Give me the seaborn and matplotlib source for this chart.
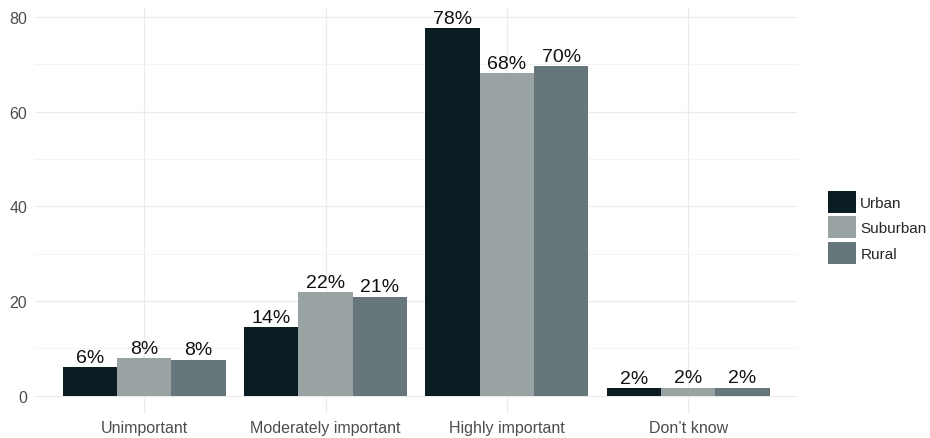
import matplotlib
matplotlib.use("Agg")
import matplotlib.pyplot as plt
import seaborn as sns
import pandas as pd
from matplotlib.patches import Patch

categories = ["Unimportant", "Moderately important", "Highly important", "Don\u2019t know"]
groups = ["Urban", "Suburban", "Rural"]
urban = [6.0, 14.5, 77.6, 1.6]
suburban = [7.9, 21.9, 68.1, 1.7]
rural = [7.6, 20.9, 69.6, 1.7]
colors = ["#0B1C22", "#9AA3A4", "#67767A"]
y_ticks = [0, 20, 40, 60, 80]

rows = []
for g, vals in zip(groups, [urban, suburban, rural]):
    for c, v in zip(categories, vals):
        rows.append({"category": c, "group": g, "value": v})
df = pd.DataFrame(rows)

sns.set_theme(style="white")
plt.rcParams["font.family"] = ["Liberation Sans", "DejaVu Sans"]

fig = plt.figure(figsize=(9.3, 4.39), dpi=100)
ax = fig.add_axes([0.038, 0.054, 0.819, 0.926])

sns.barplot(data=df, x="category", y="value", hue="group", order=categories,
            hue_order=groups, palette=colors, width=0.9, linewidth=0,
            saturation=1, ax=ax, legend=False)

for cont in ax.containers:
    labels = [f"{b.get_height():.0f}%" for b in cont]
    ax.bar_label(cont, labels=labels, padding=1, fontsize=14, color="#111111")

ax.set_xlim(-0.6, 3.6)
ax.set_ylim(-3.9, 81.9)
ax.set_yticks(y_ticks)
ax.set_yticks([10, 30, 50, 70], minor=True)
ax.grid(True, which="major", color="#EBEBEB", linewidth=0.9)
ax.grid(True, which="minor", axis="y", color="#F3F3F3", linewidth=0.6)
ax.set_axisbelow(True)
for s in ax.spines.values():
    s.set_visible(False)
ax.set_xlabel("")
ax.set_ylabel("")
ax.tick_params(axis="both", length=0, labelsize=11.5, colors="#4D4D4D", pad=4)
ax.tick_params(axis="y", pad=6)

handles = [Patch(facecolor=c, edgecolor="none", label=g) for c, g in zip(colors, groups)]
leg = fig.legend(handles=handles, loc="center left", bbox_to_anchor=(0.884, 0.48),
                 frameon=False, fontsize=11, handlelength=1.8, handleheight=1.8,
                 handletextpad=0.3, labelspacing=0.25, borderaxespad=0)

fig.savefig("out.png", dpi=100)
